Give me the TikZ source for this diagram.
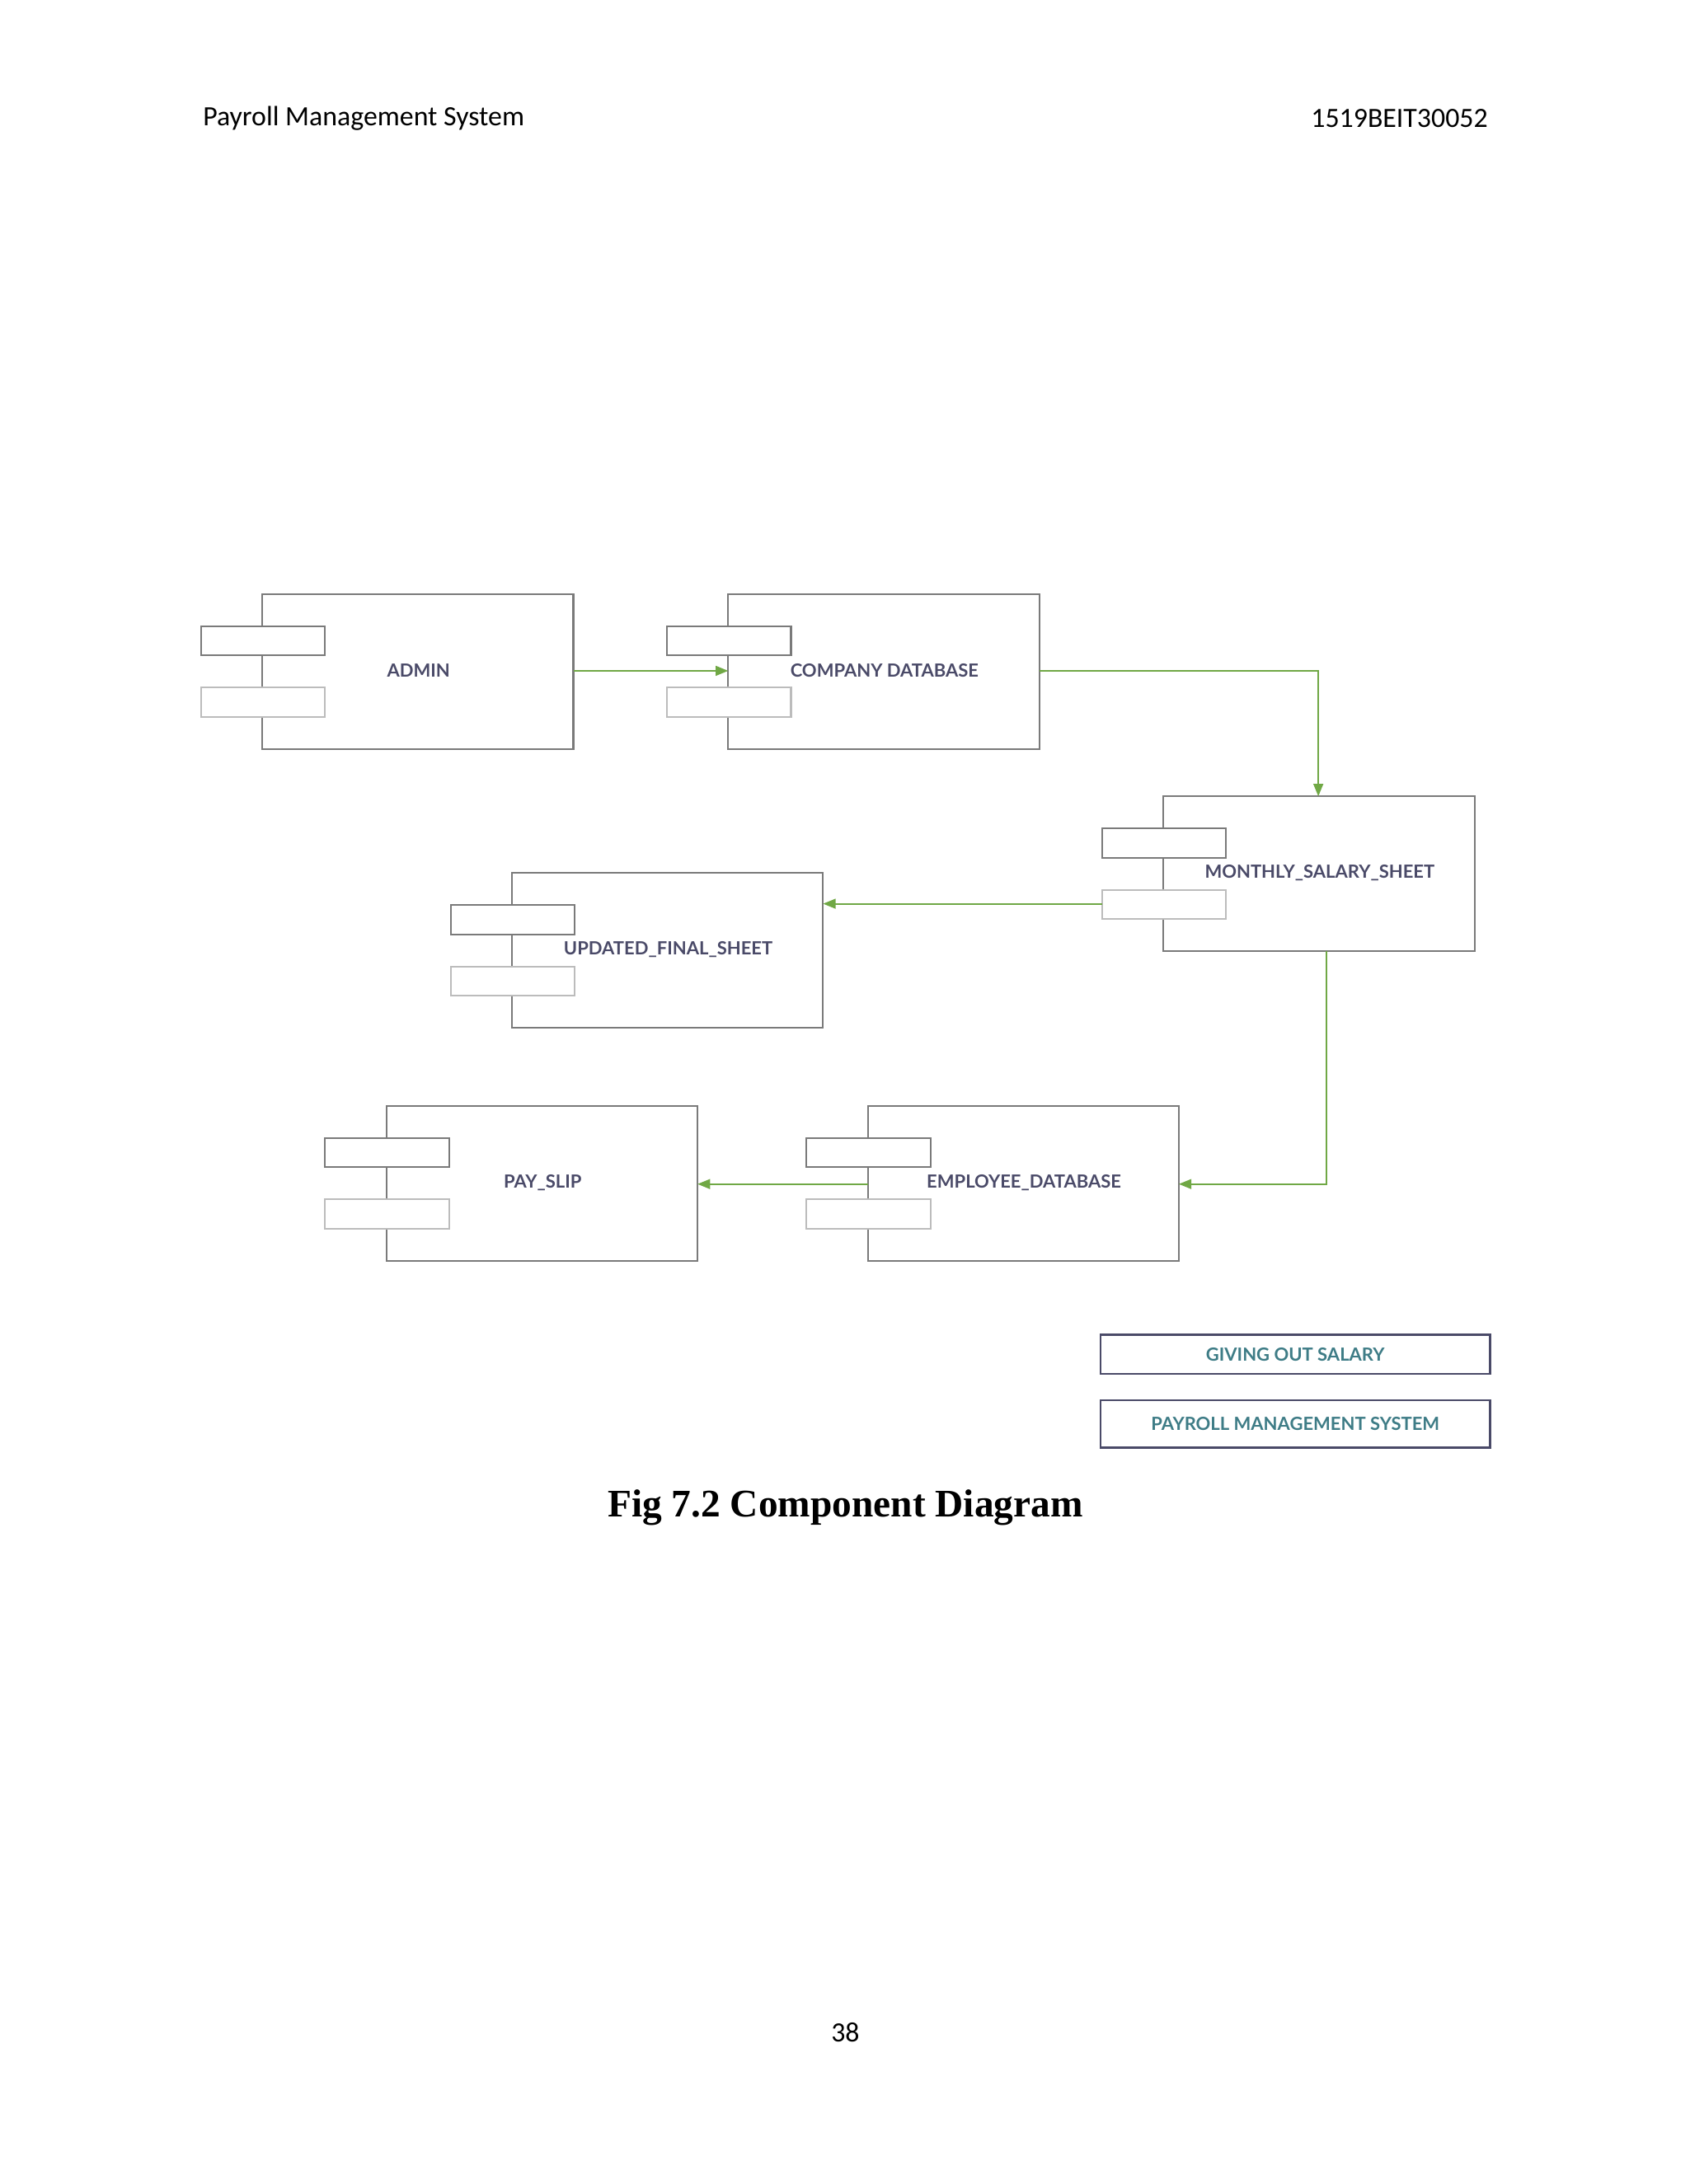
\documentclass[tikz,border=0pt]{standalone}
\usepackage{fontspec}
\setmainfont{Carlito}
\newfontfamily\lbl{Lato}
\newfontfamily\capf{Liberation Serif}
\usetikzlibrary{arrows.meta}
\definecolor{frame}{HTML}{7A7A7A}
\definecolor{txt}{HTML}{4A4A68}
\definecolor{grn}{HTML}{70A845}
\definecolor{teal}{HTML}{3E7C86}
\tikzset{
 x=1pt,y=-1pt,
 comp/.style={draw=frame,line width=1.2pt},
 tabA/.style={draw=frame,fill=white,line width=1.2pt},
 tabB/.style={draw=frame!50,fill=white,line width=1.2pt},
 lab/.style={font=\lbl\bfseries\fontsize{13}{15}\selectfont,text=txt},
 flow/.style={draw=grn,line width=1.2pt,-{Triangle[length=9pt,width=7pt]}},
 leg/.style={draw=txt,line width=1.5pt,font=\lbl\bfseries\fontsize{13}{15}\selectfont,text=teal,inner sep=0pt}
}
\newcommand{\compbox}[4]{% name, x, y, label
 \draw[comp] (#2,#3) rectangle ++(223,111);
 \coordinate (#1-nw) at (#2,#3);
 \node[lab] (#1) at ($(#2,#3)+(112,55)$) {#4};
 \draw[tabA] ($(#2,#3)+(-44,23)$) rectangle ++(89,21);
 \draw[tabB] ($(#2,#3)+(-44,67)$) rectangle ++(89,21);
}
\usetikzlibrary{calc}
\begin{document}
\begin{tikzpicture}
\useasboundingbox (0,0) rectangle (1211,1566);
\node[anchor=west,font=\fontsize{20}{24}\selectfont] (h1) at (142,85) {Payroll Management System};
\node[anchor=east,font=\fontsize{20}{24}\selectfont] (h2) at (1070,85) {1519BEIT30052};
\compbox{admin}{188}{426}{ADMIN}
\compbox{comp}{522}{426}{COMPANY DATABASE}
\compbox{month}{834}{571}{MONTHLY\_SALARY\_SHEET}
\compbox{upd}{367}{626}{UPDATED\_FINAL\_SHEET}
\compbox{pay}{277}{793}{PAY\_SLIP}
\compbox{emp}{622}{793}{EMPLOYEE\_DATABASE}
\coordinate (a1) at (411,481); \coordinate (a2) at (522,481);
\draw[flow] (a1) -- (a2);
\coordinate (b1) at (745,481); \coordinate (b2) at (945,571);
\draw[flow] (b1) -| (b2);
\coordinate (c1) at (790,648); \coordinate (c2) at (590,648);
\draw[flow] (c1) -- (c2);
\coordinate (d1) at (951,682); \coordinate (d2) at (845,849);
\draw[flow] (d1) |- (d2);
\coordinate (e1) at (622,849); \coordinate (e2) at (500,849);
\draw[flow] (e1) -- (e2);
\node[leg,minimum width=279pt,minimum height=28pt] (l1) at (928.5,971) {GIVING OUT SALARY};
\node[leg,minimum width=279pt,minimum height=34pt] (l2) at (928.5,1021) {PAYROLL MANAGEMENT SYSTEM};
\node[font=\capf\bfseries\fontsize{28}{32}\selectfont] (cap) at (606,1081) {Fig 7.2 Component Diagram};
\node[font=\fontsize{20}{24}\selectfont] (pg) at (606,1457) {38};
\end{tikzpicture}
\end{document}
